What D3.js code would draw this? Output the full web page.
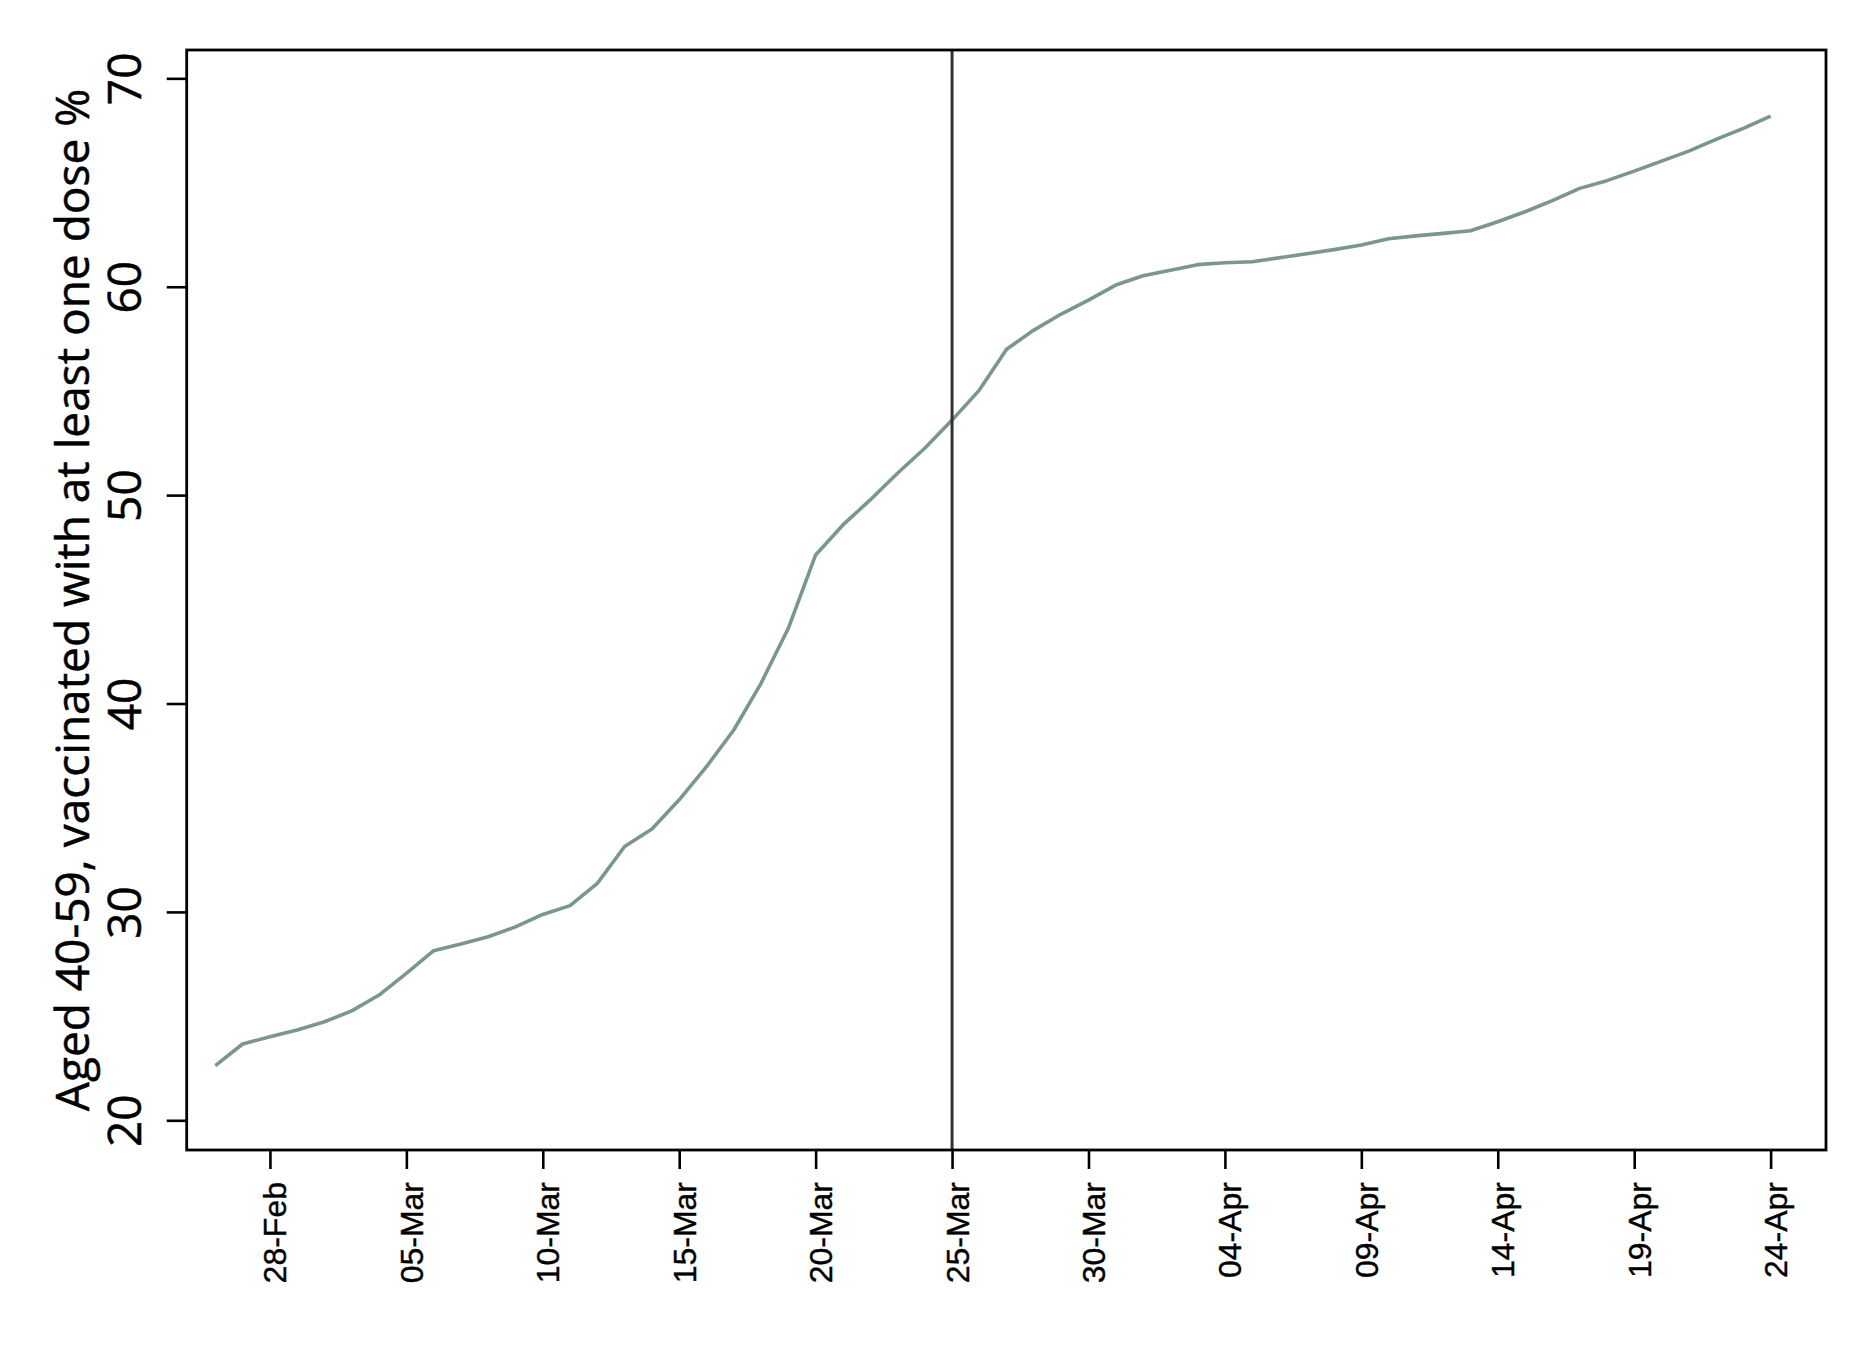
<!DOCTYPE html>
<html>
<head>
<meta charset="utf-8">
<script src="https://cdn.jsdelivr.net/npm/d3@7"></script>
<style>
  body { margin: 0; background: #fff; }
  svg { display: block; }
</style>
</head>
<body>
<div id="chart"></div>
<script>
// Data: share of people aged 40-59 with at least one dose, one value a day
const firstDay = "2021-02-26";
const lastDay = "2021-04-24";
const dosePct = [
  22.62, 23.66, 24.01,
  24.33, 24.73, 25.25, 26.01, 27.05, 28.14, 28.46, 28.81, 29.28, 29.88,
  30.30, 31.37, 33.14, 33.98, 35.38, 36.97, 38.73, 40.97, 43.61, 47.13,
  48.57, 49.77, 51.05, 52.25, 53.60, 55.04, 57.00, 57.92, 58.69, 59.36, 60.08,
  60.53, 60.79, 61.06, 61.15, 61.20, 61.39, 61.58, 61.78, 62.00, 62.30,
  62.44, 62.56, 62.69, 63.12, 63.60, 64.13, 64.72, 65.09, 65.55, 66.03,
  66.51, 67.07, 67.60, 68.19
];
const xTickDates = [
  "2021-02-28", "2021-03-05", "2021-03-10", "2021-03-15", "2021-03-20",
  "2021-03-25", "2021-03-30", "2021-04-04", "2021-04-09", "2021-04-14",
  "2021-04-19", "2021-04-24"
];
const yTicks = [20, 30, 40, 50, 60, 70];
const markerDate = "2021-03-25";
const yTitle = "Aged 40-59, vaccinated with at least one dose %";

//#region Setup
const width = 1876;
const height = 1364;
const frame = { left: 186.7, right: 1826, top: 50, bottom: 1150 };
const lineColor = "#7b968a";
const avenirish = "'Open Sans', 'Noto Sans', sans-serif";

const parse = d3.utcParse("%Y-%m-%d");
const dayMs = 864e5;
const dates = d3.utcDay.range(parse(firstDay), d3.utcDay.offset(parse(lastDay), 1));
const series = dates.map((d, i) => ({ date: d, value: dosePct[i] }));

const svg = d3.select("#chart").append("svg")
  .attr("width", width)
  .attr("height", height);
svg.append("rect").attr("width", width).attr("height", height).attr("fill", "#fff");
//#endregion

//#region Scales
const x0 = parse("2021-02-28").getTime();
const scaleX = d3.scaleUtc()
  .domain([new Date(x0 - 3.05 * dayMs), new Date(x0 + 57.03 * dayMs)])
  .range([frame.left, frame.right]);

const scaleY = d3.scaleLinear()
  .domain([18.575, 71.36])
  .range([frame.bottom, frame.top]);
//#endregion

//#region Axes
const xAxis = d3.axisBottom(scaleX)
  .tickValues(xTickDates.map(parse))
  .tickFormat(d3.utcFormat("%d-%b"))
  .tickSize(19)
  .tickSizeOuter(0);

const gx = svg.append("g")
  .attr("transform", `translate(0, ${frame.bottom})`)
  .call(xAxis);
gx.select(".domain").remove();
gx.selectAll(".tick line").attr("stroke", "#000").attr("stroke-width", 2.6);
gx.selectAll(".tick text")
  .attr("font-family", "'Liberation Sans', Arial, sans-serif")
  .attr("font-size", 32)
  .attr("fill", "#000")
  .attr("stroke", "#000")
  .attr("stroke-width", 0.4)
  .attr("text-anchor", "end")
  .attr("dy", null)
  .attr("y", null)
  .attr("transform", "translate(16, 32) rotate(-90)");

const yAxis = d3.axisLeft(scaleY)
  .tickValues(yTicks)
  .tickFormat(d3.format("d"))
  .tickSize(20)
  .tickSizeOuter(0);

const gy = svg.append("g")
  .attr("transform", `translate(${frame.left}, 0)`)
  .call(yAxis);
gy.select(".domain").remove();
gy.selectAll(".tick line").attr("stroke", "#000").attr("stroke-width", 2.6);
gy.selectAll(".tick text")
  .attr("font-family", avenirish)
  .attr("font-size", 46)
  .attr("fill", "#000")
  .attr("stroke", "#000")
  .attr("stroke-width", 0.5)
  .attr("text-anchor", "middle")
  .attr("x", null)
  .attr("dy", null)
  .attr("transform", "translate(-46, 0) rotate(-90)");
//#endregion

//#region Line and marker
const line = d3.line()
  .x(d => scaleX(d.date))
  .y(d => scaleY(d.value));

svg.append("path")
  .datum(series)
  .attr("d", line)
  .attr("fill", "none")
  .attr("stroke", lineColor)
  .attr("stroke-width", 3.6)
  .attr("stroke-linejoin", "round");

svg.append("line")
  .attr("x1", scaleX(parse(markerDate)))
  .attr("x2", scaleX(parse(markerDate)))
  .attr("y1", frame.top)
  .attr("y2", frame.bottom)
  .attr("stroke", "#333")
  .attr("stroke-width", 3);

// plot frame
svg.append("rect")
  .attr("x", frame.left)
  .attr("y", frame.top)
  .attr("width", frame.right - frame.left)
  .attr("height", frame.bottom - frame.top)
  .attr("fill", "none")
  .attr("stroke", "#000")
  .attr("stroke-width", 2.8);
//#endregion

//#region Y title
svg.append("text")
  .text(yTitle)
  .attr("transform", `translate(89, ${(frame.top + frame.bottom) / 2}) rotate(-90)`)
  .attr("text-anchor", "middle")
  .attr("font-family", avenirish)
  .attr("font-size", 46)
  .attr("fill", "#000")
  .attr("stroke", "#000")
  .attr("stroke-width", 0.5);
//#endregion
</script>
</body>
</html>
